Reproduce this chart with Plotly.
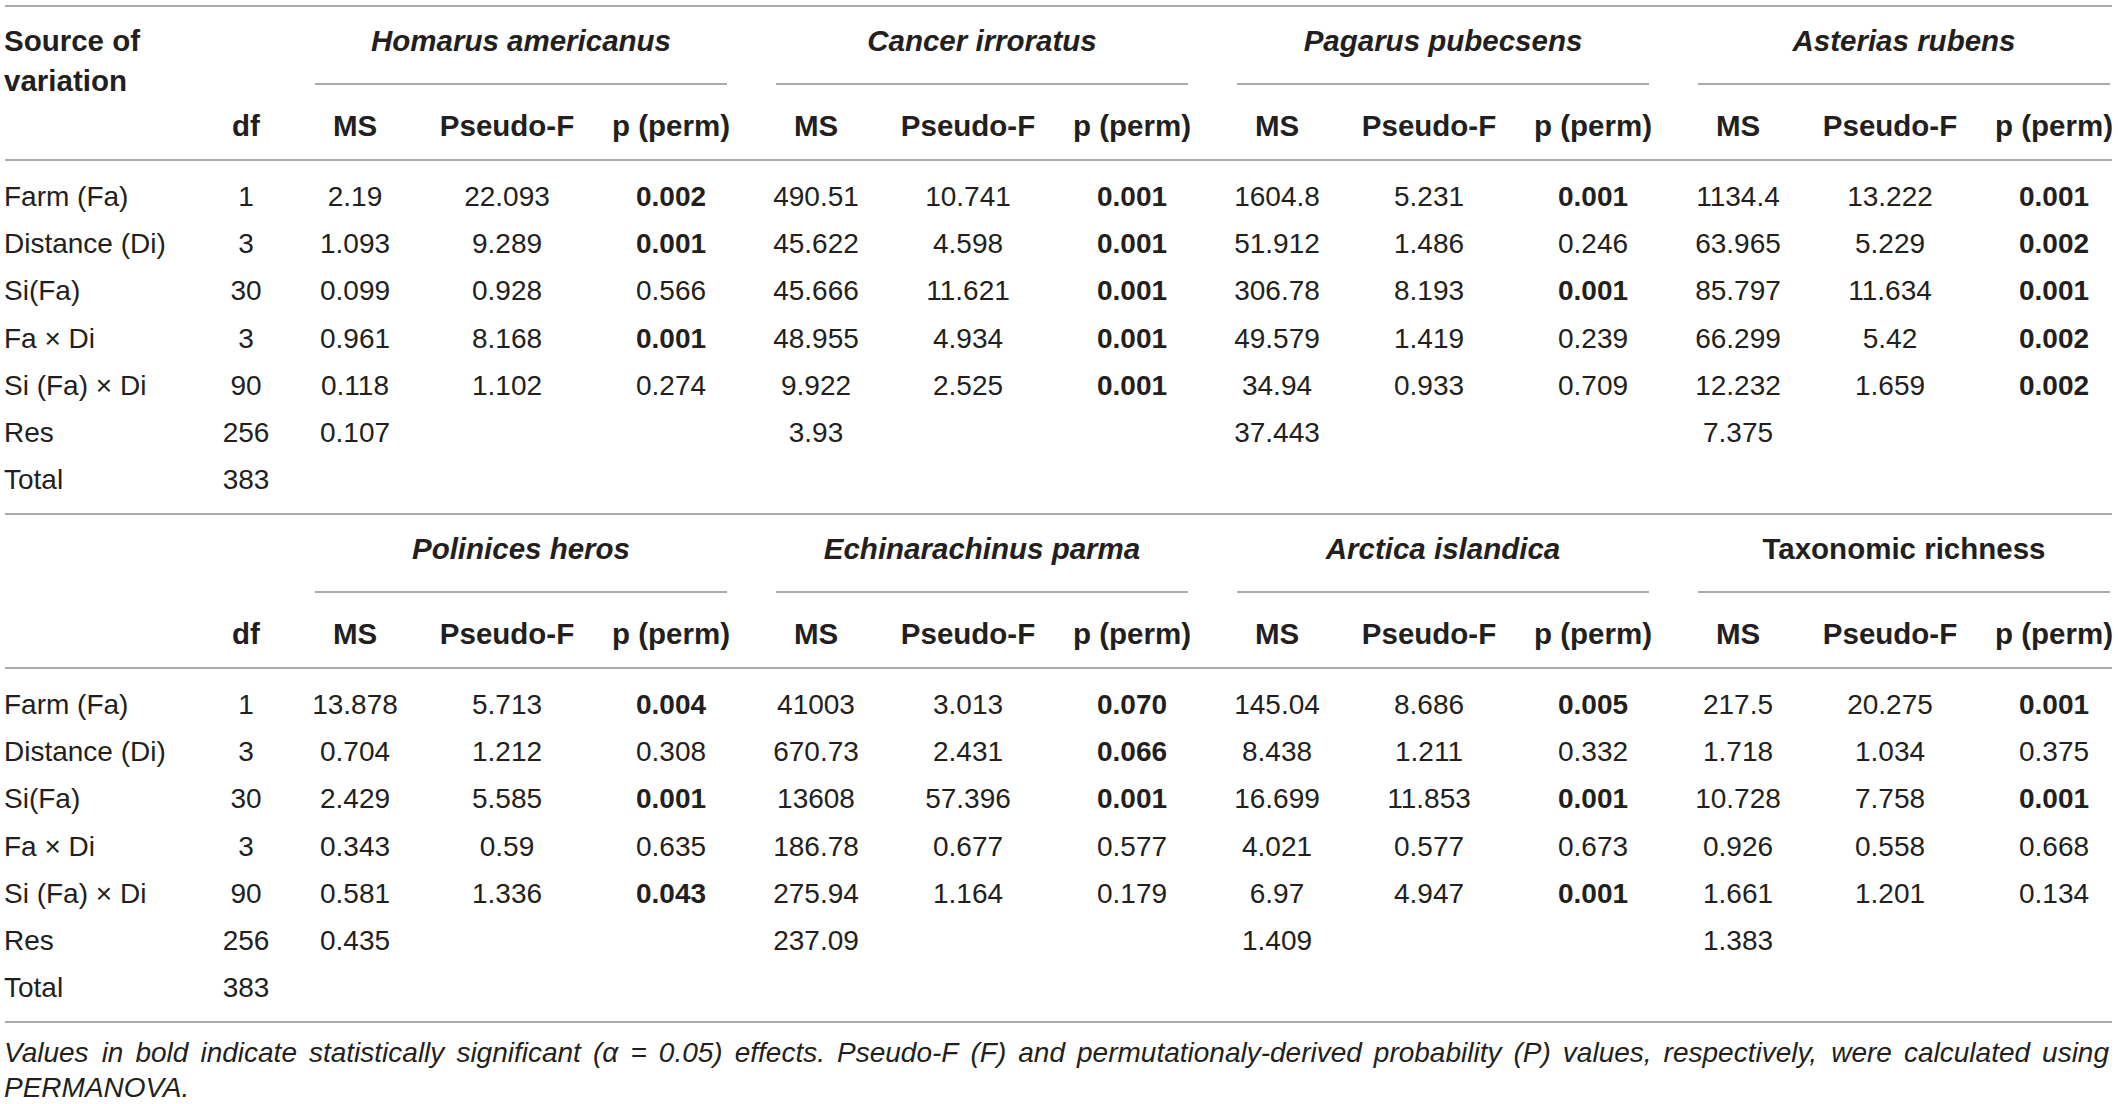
import plotly.graph_objects as go

# ---- table content ----
sources = ["Farm (Fa)", "Distance (Di)", "Si(Fa)", "Fa × Di", "Si (Fa) × Di", "Res", "Total"]
df_values = ["1", "3", "30", "3", "90", "256", "383"]
col_heads = ["MS", "Pseudo-F", "p (perm)"]

species_top = ["Homarus americanus", "Cancer irroratus", "Pagarus pubecsens", "Asterias rubens"]
species_bottom = ["Polinices heros", "Echinarachinus parma", "Arctica islandica", "Taxonomic richness"]
italic_top = [True, True, True, True]
italic_bottom = [True, True, True, False]

# MS has 6 values (last one is Res), Pseudo-F and p have 5
homarus_ms = ["2.19", "1.093", "0.099", "0.961", "0.118", "0.107"]
homarus_f = ["22.093", "9.289", "0.928", "8.168", "1.102"]
homarus_p = ["0.002", "0.001", "0.566", "0.001", "0.274"]
homarus_bold = [1, 1, 0, 1, 0]

cancer_ms = ["490.51", "45.622", "45.666", "48.955", "9.922", "3.93"]
cancer_f = ["10.741", "4.598", "11.621", "4.934", "2.525"]
cancer_p = ["0.001", "0.001", "0.001", "0.001", "0.001"]
cancer_bold = [1, 1, 1, 1, 1]

pagarus_ms = ["1604.8", "51.912", "306.78", "49.579", "34.94", "37.443"]
pagarus_f = ["5.231", "1.486", "8.193", "1.419", "0.933"]
pagarus_p = ["0.001", "0.246", "0.001", "0.239", "0.709"]
pagarus_bold = [1, 0, 1, 0, 0]

asterias_ms = ["1134.4", "63.965", "85.797", "66.299", "12.232", "7.375"]
asterias_f = ["13.222", "5.229", "11.634", "5.42", "1.659"]
asterias_p = ["0.001", "0.002", "0.001", "0.002", "0.002"]
asterias_bold = [1, 1, 1, 1, 1]

polinices_ms = ["13.878", "0.704", "2.429", "0.343", "0.581", "0.435"]
polinices_f = ["5.713", "1.212", "5.585", "0.59", "1.336"]
polinices_p = ["0.004", "0.308", "0.001", "0.635", "0.043"]
polinices_bold = [1, 0, 1, 0, 1]

echin_ms = ["41003", "670.73", "13608", "186.78", "275.94", "237.09"]
echin_f = ["3.013", "2.431", "57.396", "0.677", "1.164"]
echin_p = ["0.070", "0.066", "0.001", "0.577", "0.179"]
echin_bold = [1, 1, 1, 0, 0]

arctica_ms = ["145.04", "8.438", "16.699", "4.021", "6.97", "1.409"]
arctica_f = ["8.686", "1.211", "11.853", "0.577", "4.947"]
arctica_p = ["0.005", "0.332", "0.001", "0.673", "0.001"]
arctica_bold = [1, 0, 1, 0, 1]

richness_ms = ["217.5", "1.718", "10.728", "0.926", "1.661", "1.383"]
richness_f = ["20.275", "1.034", "7.758", "0.558", "1.201"]
richness_p = ["0.001", "0.375", "0.001", "0.668", "0.134"]
richness_bold = [1, 0, 1, 0, 0]

footnote_1 = ("Values in bold indicate statistically significant (α =  0.05) effects. Pseudo-F (F) and "
              "permutationaly-derived probability (P) values, respectively, were calculated using")
footnote_2 = "PERMANOVA."

blocks = [
    [(species_top[0], italic_top[0], homarus_ms, homarus_f, homarus_p, homarus_bold),
     (species_top[1], italic_top[1], cancer_ms, cancer_f, cancer_p, cancer_bold),
     (species_top[2], italic_top[2], pagarus_ms, pagarus_f, pagarus_p, pagarus_bold),
     (species_top[3], italic_top[3], asterias_ms, asterias_f, asterias_p, asterias_bold)],
    [(species_bottom[0], italic_bottom[0], polinices_ms, polinices_f, polinices_p, polinices_bold),
     (species_bottom[1], italic_bottom[1], echin_ms, echin_f, echin_p, echin_bold),
     (species_bottom[2], italic_bottom[2], arctica_ms, arctica_f, arctica_p, arctica_bold),
     (species_bottom[3], italic_bottom[3], richness_ms, richness_f, richness_p, richness_bold)],
]

# ---- layout (pixel-like axis units) ----
W, H = 2118, 1104
FONT = "Liberation Sans"
TXT = "#231f20"
RULE = "#8f8f8f"
BODY = 28
HEAD = 29.5
NOTE = 28

left_x = 7
right_x = 2112
df_x = 246
group_step = 461
sub_x = [355, 507, 671]          # MS, Pseudo-F, p centres of first group
span = (315, 727)                # underline under a species name
block_step = 508
y_top_rule = 6
y_species = 40.5
y_span = 84
y_heads = 125.5
y_head_rule = 160
y_row0 = 196
row_step = 47.2
y_note = [1052, 1087]
text_dy = 3                      # nudge text baselines down a little

centre = dict(x=[], y=[], text=[], size=[])
left = dict(x=[], y=[], text=[], size=[])


def put(store, x, y, text, size):
    store["x"].append(x)
    store["y"].append(y + text_dy)
    store["text"].append(text)
    store["size"].append(size)


shapes = []


def rule(x0, x1, y):
    shapes.append(dict(type="line", xref="x", yref="y", x0=x0, x1=x1, y0=y, y1=y,
                       line=dict(color=RULE, width=1.6)))


for b, block in enumerate(blocks):
    off = b * block_step
    if b == 0:
        rule(left_x - 2, right_x, off + y_top_rule)
        put(left, left_x, off + y_species, "<b>Source of</b>", HEAD)
        put(left, left_x, off + 81, "<b>variation</b>", HEAD)
    rule(left_x - 2, right_x, off + y_head_rule)
    rule(left_x - 2, right_x, off + block_step + y_top_rule)
    put(centre, df_x, off + y_heads, "<b>df</b>", HEAD)

    for i, src in enumerate(sources):
        y = off + y_row0 + i * row_step
        put(left, left_x, y, src, BODY)
        put(centre, df_x, y, df_values[i], BODY)

    for g, (name, ital, ms, pf, pv, bold) in enumerate(block):
        gx = g * group_step
        label = "<b><i>%s</i></b>" % name if ital else "<b>%s</b>" % name
        put(centre, (span[0] + span[1]) / 2 + gx, off + y_species, label, HEAD)
        rule(span[0] + gx, span[1] + gx, off + y_span)
        for k, head in enumerate(col_heads):
            put(centre, sub_x[k] + gx, off + y_heads, "<b>%s</b>" % head, HEAD)
        for i, v in enumerate(ms):
            put(centre, sub_x[0] + gx, off + y_row0 + i * row_step, v, BODY)
        for i, v in enumerate(pf):
            put(centre, sub_x[1] + gx, off + y_row0 + i * row_step, v, BODY)
        for i, v in enumerate(pv):
            put(centre, sub_x[2] + gx, off + y_row0 + i * row_step,
                "<b>%s</b>" % v if bold[i] else v, BODY)

# ---- justified footnote (Arial / Liberation Sans advance widths, 1/1000 em) ----
widths = {" ": 278, "(": 333, ")": 333, ".": 278, ",": 278, "-": 333, "=": 584, "α": 578}
widths.update({c: 556 for c in "0123456789"})
widths.update(dict(zip("abcdefghijklmnopqrstuvwxyz",
                       [556, 556, 500, 556, 556, 278, 556, 556, 222, 222, 500, 222, 833,
                        556, 556, 556, 556, 333, 500, 278, 556, 500, 722, 500, 500, 500])))
widths.update(dict(zip("ABCDEFGHIJKLMNOPQRSTUVWXYZ",
                       [667, 667, 722, 722, 667, 611, 778, 722, 278, 500, 667, 556, 833,
                        722, 778, 667, 778, 722, 667, 611, 722, 667, 944, 667, 667, 611])))


def text_width(s, size):
    return sum(widths.get(c, 556) for c in s) * size / 1000.0


words = footnote_1.split()
total = sum(text_width(w, NOTE) for w in words)
gap = (right_x - left_x - total) / (len(words) - 1)
cx = left_x
for w in words:
    put(left, cx, y_note[0], "<i>%s</i>" % w, NOTE)
    cx += text_width(w, NOTE) + gap
put(left, left_x, y_note[1], "<i>%s</i>" % footnote_2, NOTE)

fig = go.Figure()
fig.add_trace(go.Scatter(x=centre["x"], y=centre["y"], text=centre["text"], mode="text",
                         textposition="middle center", cliponaxis=False, hoverinfo="skip",
                         textfont=dict(family=FONT, size=centre["size"], color=TXT)))
fig.add_trace(go.Scatter(x=[v - 3 for v in left["x"]], y=left["y"], text=left["text"], mode="text",
                         textposition="middle right", cliponaxis=False, hoverinfo="skip",
                         textfont=dict(family=FONT, size=left["size"], color=TXT)))

fig.update_layout(
    width=W, height=H,
    margin=dict(l=0, r=0, t=0, b=0),
    showlegend=False,
    plot_bgcolor="white",
    paper_bgcolor="white",
    shapes=shapes,
    xaxis=dict(range=[0, W], visible=False, fixedrange=True),
    yaxis=dict(range=[H, 0], visible=False, fixedrange=True),
)

fig.write_html("out.html", config={"displayModeBar": False},
               post_script="document.body.style.margin='0';document.body.style.overflow='hidden';")
